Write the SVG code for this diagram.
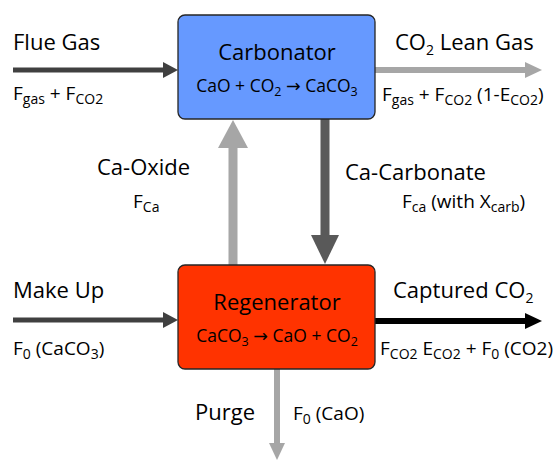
<svg xmlns="http://www.w3.org/2000/svg" width="560" height="460" viewBox="0 0 560 460">
<defs>
<style>
text{font-family:"Open Sans","Noto Sans","DejaVu Sans",sans-serif;fill:#000}
.lbl{font-size:22px}
.f{font-size:19px}
.eq{font-size:17.5px}
.s{font-size:14px}
.box{stroke:#262626;stroke-width:1.3}
.c{stroke-linecap:butt;fill:none}
</style>
<marker id="hDark" markerUnits="userSpaceOnUse" viewBox="0 0 15 16" refX="0" refY="8" markerWidth="15" markerHeight="16" orient="auto"><path d="M0,0 L15,8 L0,16 z" fill="#404040"/></marker>
<marker id="hLight" markerUnits="userSpaceOnUse" viewBox="0 0 17 16" refX="0" refY="8" markerWidth="17" markerHeight="16" orient="auto"><path d="M0,0 L17,8 L0,16 z" fill="#a6a6a6"/></marker>
<marker id="hBlack" markerUnits="userSpaceOnUse" viewBox="0 0 17 16" refX="0" refY="8" markerWidth="17" markerHeight="16" orient="auto"><path d="M0,0 L17,8 L0,16 z" fill="#000"/></marker>
<marker id="hBigLight" markerUnits="userSpaceOnUse" viewBox="0 0 28 30" refX="0" refY="15" markerWidth="28" markerHeight="30" orient="auto"><path d="M0,0 L28,15 L0,30 z" fill="#a6a6a6"/></marker>
<marker id="hBigDark" markerUnits="userSpaceOnUse" viewBox="0 0 29 28" refX="0" refY="14" markerWidth="29" markerHeight="28" orient="auto"><path d="M0,0 L29,14 L0,28 z" fill="#595959"/></marker>
</defs>
<rect width="560" height="460" fill="#fff"/>
<g id="connectors">
<line class="c" x1="13" y1="70" x2="163" y2="70" stroke="#404040" stroke-width="5" marker-end="url(#hDark)"/>
<line class="c" x1="375" y1="70" x2="525" y2="70" stroke="#a6a6a6" stroke-width="6" marker-end="url(#hLight)"/>
<line class="c" x1="13" y1="320" x2="163" y2="320" stroke="#404040" stroke-width="5" marker-end="url(#hDark)"/>
<line class="c" x1="375" y1="321" x2="525" y2="321" stroke="#000" stroke-width="6" marker-end="url(#hBlack)"/>
<line class="c" x1="233" y1="265" x2="233" y2="148" stroke="#a6a6a6" stroke-width="9" marker-end="url(#hBigLight)"/>
<line class="c" x1="325" y1="119" x2="325" y2="235" stroke="#595959" stroke-width="9" marker-end="url(#hBigDark)"/>
<line class="c" x1="277" y1="369" x2="277" y2="443" stroke="#a6a6a6" stroke-width="6" marker-end="url(#hLight)"/>
</g>
<g id="carbonator">
<rect class="box" x="178" y="15" width="197" height="104" rx="7" fill="#6699ff"/>
<text class="lbl" x="277" y="60" text-anchor="middle">Carbonator</text>
<text class="eq" x="277" y="92" text-anchor="middle">CaO + CO<tspan font-size="12.5" dy="4">2</tspan><tspan dy="-4"> → CaCO</tspan><tspan font-size="12.5" dy="4">3</tspan></text>
</g>
<g id="regenerator">
<rect class="box" x="178" y="265" width="197" height="104" rx="7" fill="#ff3300"/>
<text class="lbl" x="277" y="310" text-anchor="middle">Regenerator</text>
<text class="eq" x="277" y="342" text-anchor="middle">CaCO<tspan font-size="12.5" dy="4">3</tspan><tspan dy="-4"> → CaO + CO</tspan><tspan font-size="12.5" dy="4">2</tspan></text>
</g>
<g id="flue-gas">
<text class="lbl" x="13" y="50">Flue Gas</text>
<text class="f" x="13" y="100">F<tspan class="s" dy="4">gas</tspan><tspan dy="-4"> + F</tspan><tspan class="s" dy="4">CO2</tspan></text>
</g>
<g id="co2-lean-gas">
<text class="lbl" x="395" y="50">CO<tspan font-size="14" dy="5">2</tspan><tspan dy="-5"> Lean Gas</tspan></text>
<text class="f" x="382" y="101">F<tspan class="s" dy="4">gas</tspan><tspan dy="-4"> + F</tspan><tspan class="s" dy="4">CO2</tspan><tspan dy="-4"> (1-E</tspan><tspan class="s" dy="4">CO2</tspan><tspan dy="-4">)</tspan></text>
</g>
<g id="ca-oxide">
<text class="lbl" x="97" y="175">Ca-Oxide</text>
<text class="f" x="133" y="208">F<tspan class="s" dy="4">Ca</tspan></text>
</g>
<g id="ca-carbonate">
<text class="lbl" x="345" y="180">Ca-Carbonate</text>
<text class="f" x="402" y="208">F<tspan class="s" dy="4">ca</tspan><tspan dy="-4"> (with X</tspan><tspan class="s" dy="4">carb</tspan><tspan dy="-4">)</tspan></text>
</g>
<g id="make-up">
<text class="lbl" x="13" y="298">Make Up</text>
<text class="f" x="13" y="355">F<tspan class="s" dy="4">0</tspan><tspan dy="-4"> (CaCO</tspan><tspan class="s" dy="4">3</tspan><tspan dy="-4">)</tspan></text>
</g>
<g id="captured-co2">
<text class="lbl" x="393" y="298">Captured CO<tspan font-size="14" dy="5">2</tspan></text>
<text class="f" x="380" y="355">F<tspan class="s" dy="4">CO2</tspan><tspan dy="-4"> E</tspan><tspan class="s" dy="4">CO2</tspan><tspan dy="-4"> + F</tspan><tspan class="s" dy="4">0</tspan><tspan dy="-4"> (CO2)</tspan></text>
</g>
<g id="purge">
<text class="lbl" x="195" y="420">Purge</text>
<text class="f" x="293" y="420">F<tspan class="s" dy="4">0</tspan><tspan dy="-4"> (CaO)</tspan></text>
</g>
</svg>
